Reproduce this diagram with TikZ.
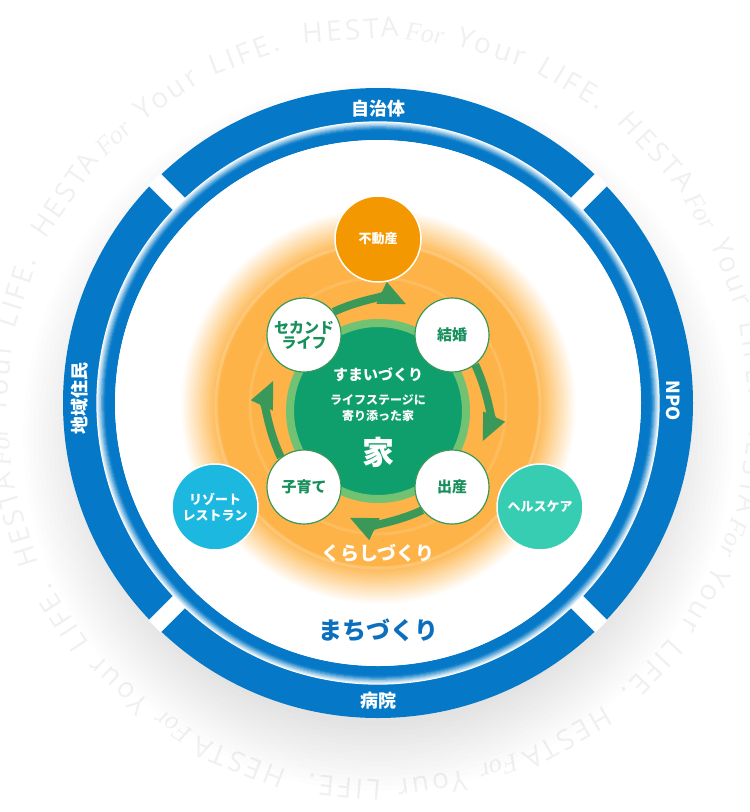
\documentclass[tikz,border=0pt]{standalone}
\usepackage{fontspec}
\setmainfont{Noto Sans CJK JP}
\newfontfamily\jp{Noto Sans CJK JP}
\newfontfamily\wm[LetterSpace=12]{Open Sans}
\newfontfamily\wmfor{Liberation Serif}
\usetikzlibrary{arrows.meta}

\definecolor{bandblue}{HTML}{0579C8}
\definecolor{townblue}{HTML}{0B6FBE}
\definecolor{glow}{HTML}{FDB347}
\definecolor{homegreen}{HTML}{0E9F6C}
\definecolor{ringgreen}{HTML}{72C273}
\definecolor{arrowgreen}{HTML}{3A9859}
\definecolor{textgreen}{HTML}{17905C}
\definecolor{estate}{HTML}{F39800}
\definecolor{resort}{HTML}{1DB8DF}
\definecolor{health}{HTML}{36CDB2}
\definecolor{wmgray}{HTML}{F0F0F0}

\newcommand{\fsz}[2]{\fontsize{#1pt}{#2pt}\selectfont}
\pgfdeclareradialshading{orangeglow}{\pgfpointorigin}{%
  color(0bp)=(glow); color(20bp)=(glow); color(25bp)=(white); color(50bp)=(white)}

\begin{document}
\begin{tikzpicture}[x=1pt, y=-1pt,
  stage/.style={circle, draw=arrowgreen, line width=1.2pt, fill=white,
    minimum size=74pt, inner sep=0pt, align=center, text=textgreen,
    font=\jp\bfseries\fsz{15}{15}},
  partner/.style={circle, draw=white, line width=1.5pt, minimum size=86pt,
    inner sep=0pt, align=center, text=white, font=\jp\bfseries\fsz{13}{16}},
  band/.style={text=white, inner sep=0pt, font=\jp\bfseries\fsz{18}{18}},
  lifearrow/.style={arrowgreen, line width=8pt, bend left=25, shorten >=17pt,
    -{Triangle[length=28pt, width=22pt]}},
  wmword/.style={text=wmgray, inner sep=0pt, text height=20pt, text depth=0pt,
    font=\wm\fsz{28}{28}}]
  \useasboundingbox (0,0) rectangle (750,812);
  \clip (0,0) rectangle (750,812);

  % watermark round the ring
  \foreach \k in {0,...,6} {
    \pgfmathsetmacro\base{\k*360/7}
    \foreach \w/\ang/\j in {HESTA/-4.2/1, Your/17.5/3, LIFE./30.8/4}
      \node[wmword, rotate={-(\ang+\base)}] (wm\k\j)
        at ({378+380*sin(\ang+\base)},{409-380*cos(\ang+\base)}) {\w};
    \node[wmword, font=\wmfor\itshape\fsz{26}{26}, rotate={-(7.1+\base)}] (wm\k2)
      at ({378+380*sin(7.1+\base)},{409-380*cos(7.1+\base)}) {For};
  }

  % shadow
  \foreach \r in {290,295,...,355}
    \fill[black, opacity=0.009] (378,436) circle (\r);

  % outer band and gaps
  \draw[bandblue, line width=34pt] (378,403) circle (298);
  \foreach \a in {45,135,225,315}
    \draw[white, line width=17pt] ({378+279*cos(\a)},{403-279*sin(\a)})
      -- ({378+316*cos(\a)},{403-316*sin(\a)});

  % inner ring
  \draw[bandblue, line width=14pt] (378,403) circle (270);
  \foreach \i [evaluate=\i as \p using int(\i*12)] in {0,...,8}
    \draw[bandblue!\p!white, line width=1.3pt] (378,403) circle ({281-\i});
  \fill[white] (378,403) circle (263);

  % glow
  \shade[shading=orangeglow] (378,406) circle (198);
  \draw[white, opacity=0.18, line width=3pt] (378,406) circle (162);
  \draw[white, opacity=0.12, line width=3pt] (378,406) circle (128);

  \node[circle, fill=homegreen, draw=ringgreen, line width=8pt,
    minimum size=176pt] (home) at (378,411) {};

  \node[stage] (second) at (304,335) {セカンド\\ライフ};
  \node[stage] (marriage) at (452,335) {結婚};
  \node[stage] (birth) at (452,487) {出産};
  \node[stage] (childcare) at (304,487) {子育て};

  \draw[lifearrow] (second.38) to (marriage.142);
  \draw[lifearrow] (marriage.-52) to (birth.52);
  \draw[lifearrow] (birth.218) to (childcare.322);
  \draw[lifearrow] (childcare.128) to (second.232);

  \node[partner, fill=estate] (estate) at (378,239) {不動産};
  \node[partner, fill=resort] (resort) at (215,507) {リゾート\\レストラン};
  \node[partner, fill=health] (health) at (540,507) {ヘルスケア};

  \node[text=white, font=\jp\bfseries\fsz{15}{15}] (sumai) at (378,375) {すまいづくり};
  \node[text=white, font=\jp\bfseries\fsz{12}{16.5}, align=center] (lifestage)
    at (378,408) {ライフステージに\\寄り添った家};
  \node[text=white, font=\jp\bfseries\fsz{32}{32}] (ie) at (378,452) {家};
  \node[text=white, font=\jp\bfseries\fsz{19}{19}] (kurashi) at (378,553) {くらしづくり};
  \node[text=townblue, font=\jp\bfseries\fsz{24}{24}] (machi) at (378,630) {まちづくり};

  \node[band] (gov) at (378,109) {自治体};
  \node[band] (hospital) at (378,701) {病院};
  \node[band, rotate=-90] (npo) at (673,401) {NPO};
  \node[band, rotate=90] (residents) at (80,398) {地域住民};
\end{tikzpicture}
\end{document}
